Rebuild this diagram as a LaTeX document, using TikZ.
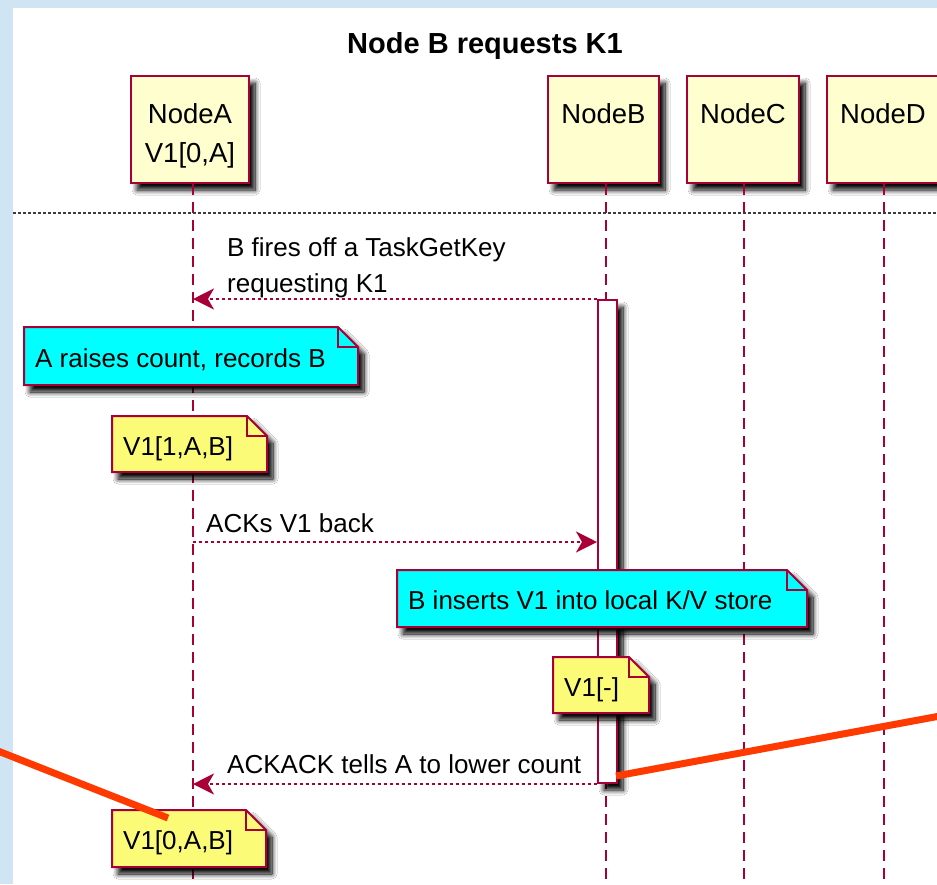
\documentclass[tikz,border=0pt]{standalone}
\usepackage{fontspec}
\setmainfont{Liberation Sans}
\usetikzlibrary{arrows.meta,shadows.blur,calc}

\definecolor{pageblue}{RGB}{207,229,243}
\definecolor{umlborder}{HTML}{A80036}
\definecolor{partfill}{HTML}{FEFECE}
\definecolor{noteyellow}{HTML}{FBFB77}
\definecolor{notecyan}{HTML}{00FFFF}
\definecolor{markred}{RGB}{255,58,0}
\definecolor{sepgrey}{RGB}{60,60,60}

\tikzset{
  softshadow/.style={blur shadow={shadow xshift=6pt,shadow yshift=-7pt,
      shadow blur radius=5pt,shadow blur steps=12,shadow opacity=100}},
  pbox/.style={draw=umlborder,line width=2pt,fill=partfill,softshadow,
      anchor=north west,inner sep=0pt,minimum height=107pt},
  plabel/.style={anchor=base,inner sep=0pt,font=\fontsize{27.5}{40}\selectfont},
  actbar/.style={draw=umlborder,line width=2pt,fill=white,softshadow,
      anchor=north west,inner sep=0pt,minimum width=19pt},
  lifeline/.style={draw=umlborder,line width=1.8pt,dash pattern=on 11pt off 7pt},
  separator/.style={draw=sepgrey,line width=2pt,dash pattern=on 2.5pt off 2.5pt},
  msg/.style={draw=umlborder,line width=1.8pt,dash pattern=on 3pt off 3pt,
      -{Stealth[length=21pt,width=21pt,inset=6pt]}},
  txt/.style={anchor=base west,inner sep=0pt,font=\fontsize{26}{36}\selectfont},
  notebody/.style={draw=umlborder,line width=2pt,softshadow},
  notefold/.style={draw=umlborder,line width=2pt,line join=miter},
  markline/.style={draw=markred,line width=7pt},
}

% note with a folded top-right corner:
% #1 name, #2 x1, #3 y1, #4 x2, #5 y2, #6 fill, #7 text
\newcommand\umlnote[7]{%
  \path[notebody,fill=#6] (#2,#3) -- (#4-20,#3) -- (#4,#3+20) -- (#4,#5)
      -- (#2,#5) -- cycle;
  \draw[notefold] (#4-20,#3) -- (#4-20,#3+20) -- (#4,#3+20);
  \node[txt] (#1) at (#2+11,{(#3+#5)/2+11}) {#7};
}

\begin{document}
\begin{tikzpicture}[x=1pt,y=-1pt]
\useasboundingbox (0,0) rectangle (937,884);
\clip (0,0) rectangle (937,884);

% page
\fill[pageblue] (0,0) rectangle (937,884);
\fill[white] (13,8) rectangle (937,884);

% title
\node[anchor=base,inner sep=0pt,font=\bfseries\fontsize{29}{32}\selectfont]
  (title) at (485,53) {Node B requests K1};

% participants
\node[pbox,minimum width=118pt] (A) at (130,75) {};
\node[pbox,minimum width=111pt] (B) at (547,75) {};
\node[pbox,minimum width=112pt] (C) at (686,75) {};
\node[pbox,minimum width=112pt] (D) at (826,75) {};

\node[plabel] (labA) at (A.center |- 0,123) {NodeA};
\node[plabel] (labA2) at (A.center |- 0,162) {V1[0,A]};
\node[plabel] (labB) at (B.center |- 0,123) {NodeB};
\node[plabel] (labC) at (C.center |- 0,123) {NodeC};
\node[plabel] (labD) at (D.center |- 0,123) {NodeD};

% lifeline ends
\coordinate (endA) at (193,884);
\coordinate (endB) at (606,884);
\coordinate (endC) at (744,884);
\coordinate (endD) at (884,884);

\draw[lifeline] (A.south -| endA) -- (endA);
\draw[lifeline] (B.south -| endB) -- (endB);
\draw[lifeline] (C.south -| endC) -- (endC);
\draw[lifeline] (D.south -| endD) -- (endD);

% divider
\coordinate (divL) at (13,213);
\coordinate (divR) at (937,213);
\draw[separator] (divL) -- (divR);

% activation of NodeB
\node[actbar,minimum height=483pt] (actB) at (597,299) {};

% messages
\draw[msg] (actB.north west) -- (actB.north west -| endA);
\node[txt] (m1a) at (227,256) {B fires off a TaskGetKey};
\node[txt] (m1b) at (227,292) {requesting K1};

\coordinate (m2) at (193,542);
\draw[msg] (m2) -- (m2 -| actB.west);
\node[txt] (m2l) at (206,532) {ACKs V1 back};

\draw[msg] (actB.south west) -- (actB.south west -| endA);
\node[txt] (m3l) at (227,773) {ACKACK tells A to lower count};

% notes
\umlnote{n1}{24}{327}{358}{385}{notecyan}{A raises count, records B}
\umlnote{n2}{112}{416}{267}{472}{noteyellow}{V1[1,A,B]}
\umlnote{n3}{397}{570}{807}{627}{notecyan}{B inserts V1 into local K/V store}
\umlnote{n4}{553}{657}{649}{713}{noteyellow}{V1[-]}
\umlnote{n5}{112}{810}{266}{867}{noteyellow}{V1[0,A,B]}

% highlight strokes
\coordinate (r1a) at (-2,751);
\coordinate (r1b) at (168,818);
\coordinate (r2a) at (616,776);
\coordinate (r2b) at (940,716);
\draw[markline] (r1a) -- (r1b);
\draw[markline] (r2a) -- (r2b);
\end{tikzpicture}
\end{document}
